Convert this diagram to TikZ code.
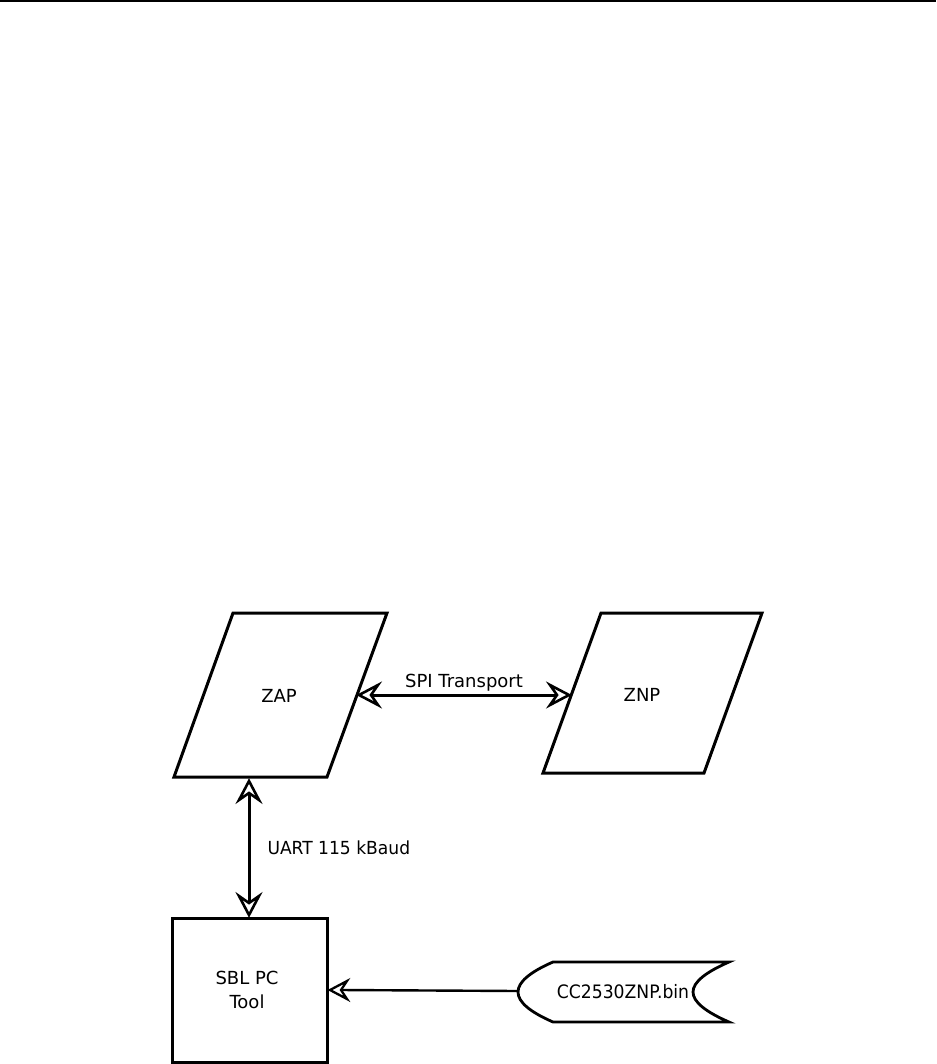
\documentclass[tikz,border=0pt]{standalone}
\usepackage{fontspec}
\setmainfont{DejaVu Sans}
\newfontfamily\narrowA[FakeStretch=0.95]{DejaVu Sans}
\newfontfamily\narrowB[FakeStretch=0.93]{DejaVu Sans}
\usetikzlibrary{calc}
\begin{document}
\begin{tikzpicture}[x=1pt,y=-1pt,
  shapeline/.style={draw=black,line width=3pt,line join=miter},
  lbl/.style={font=\fontsize{18}{24}\selectfont,inner sep=0pt},
  shaft/.style={line width=3pt},
  head/.style={draw=black,fill=white,line width=2.6pt,line join=miter,miter limit=20},
  thinshaft/.style={line width=2.4pt},
  thinhead/.style={draw=black,fill=white,line width=2.3pt,line join=miter,miter limit=20}]
\useasboundingbox (0,0) rectangle (936,1064);
\fill[white] (0,0) rectangle (936,1064);
% top rule
\draw[line width=2pt] (0,1) -- (936,1);
% ZAP
\coordinate (zapTL) at (233,613);
\coordinate (zapTR) at (387,613);
\coordinate (zapBR) at (327,777);
\coordinate (zapBL) at (174,777);
\draw[shapeline] (zapTL) -- (zapTR) -- (zapBR) -- (zapBL) -- cycle;
\node[lbl] (zap) at (279,696) {ZAP};
\coordinate (zapE) at (359,695);
\coordinate (zapS) at (249,781);
% ZNP
\coordinate (znpTL) at (601,613);
\coordinate (znpTR) at (762,613);
\coordinate (znpBR) at (704,773);
\coordinate (znpBL) at (543,773);
\draw[shapeline] (znpTL) -- (znpTR) -- (znpBR) -- (znpBL) -- cycle;
\node[lbl] (znp) at (642,695) {ZNP};
\coordinate (znpW) at (569,695);
% SBL PC Tool box
\node[shapeline,minimum width=155pt,minimum height=144pt,inner sep=0pt] (sbl) at (249.5,990) {};
\node[lbl,align=center] (sbltext) at (247,990) {SBL PC\\Tool};
\coordinate (sblN) at (249,915);
\coordinate (sblE) at (330,990);
% file shape
\coordinate (fileW) at (518,991);
\draw[line width=2.8pt] (553,962) -- (729,962)
  .. controls (706,972) and (693,982) .. (693,992)
  .. controls (693,1002) and (706,1012) .. (729,1022)
  -- (553,1022)
  .. controls (530,1012) and (518,1002) .. (518,992)
  .. controls (518,982) and (530,972) .. (553,962) -- cycle;
\node[font=\narrowB\fontsize{18.5}{20}\selectfont,inner sep=0pt] (file) at (623,992) {CC2530ZNP.bin};
% SPI connector
\draw[shaft] ($(zapE)+(12,0)$) -- ($(znpW)+(-12,0)$)
  node[midway,lbl,anchor=south,yshift=2pt] (spi) {SPI Transport};
\draw[head] ($(zapE)+(19,-10)$) -- (zapE) -- ($(zapE)+(19,10)$) -- ($(zapE)+(12,0)$) -- cycle;
\draw[head] ($(znpW)+(-19,-10)$) -- (znpW) -- ($(znpW)+(-19,10)$) -- ($(znpW)+(-12,0)$) -- cycle;
% UART connector
\draw[shaft] ($(zapS)+(0,12)$) -- ($(sblN)+(0,-12)$)
  node[midway,anchor=west,xshift=17pt,inner sep=0pt,font=\narrowA\fontsize{18}{24}\selectfont] (uart) {UART 115 kBaud};
\draw[head] ($(zapS)+(-10,19)$) -- (zapS) -- ($(zapS)+(10,19)$) -- ($(zapS)+(0,12)$) -- cycle;
\draw[head] ($(sblN)+(-10,-19)$) -- (sblN) -- ($(sblN)+(10,-19)$) -- ($(sblN)+(0,-12)$) -- cycle;
% file connector
\draw[thinshaft] (fileW) -- ($(sblE)+(11,0)$);
\draw[thinhead] ($(sblE)+(17,-9)$) -- (sblE) -- ($(sblE)+(17,9)$) -- ($(sblE)+(11,0)$) -- cycle;
\end{tikzpicture}
\end{document}
